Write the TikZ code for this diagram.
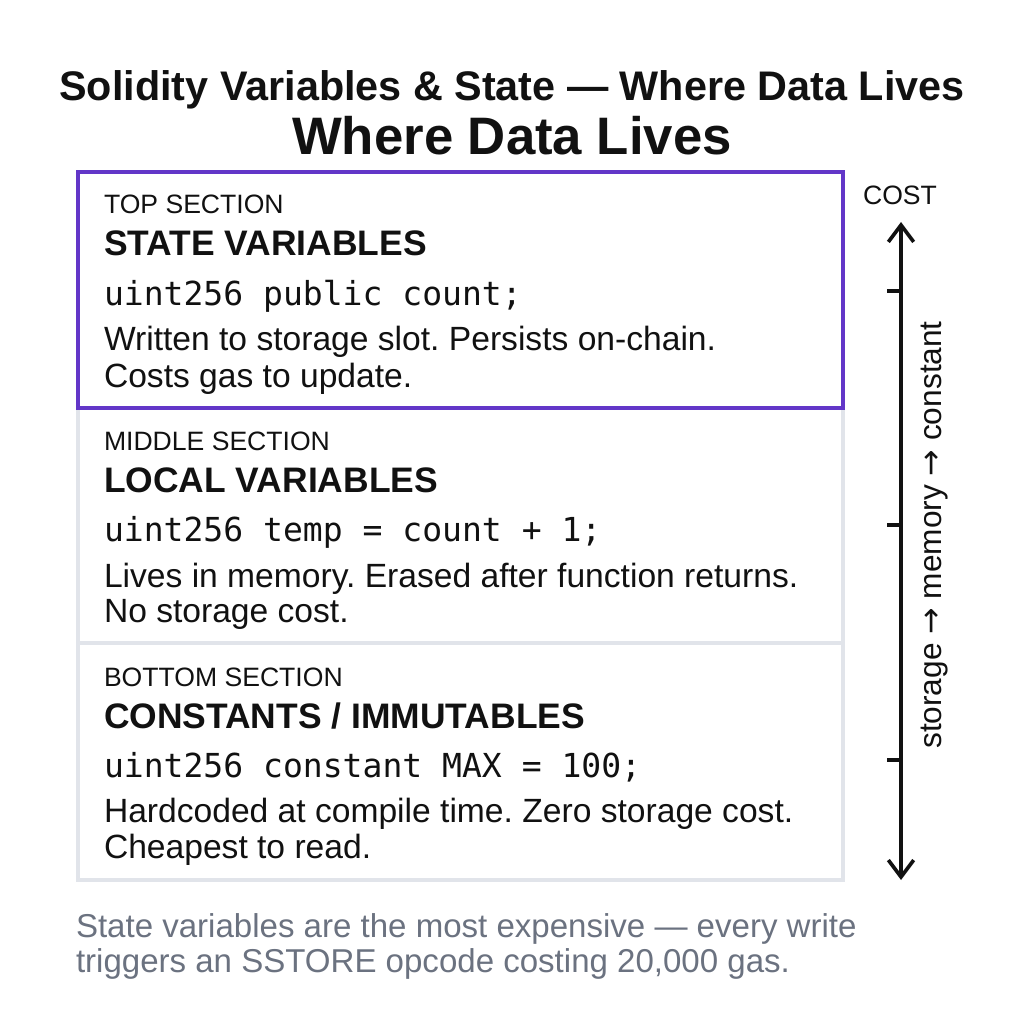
\documentclass[tikz,border=0pt]{standalone}
\usepackage{fontspec}
\setmainfont{Liberation Sans}
\setmonofont{DejaVu Sans Mono}
\newfontfamily\arrowfont{DejaVu Sans}
\usetikzlibrary{arrows.meta}
\definecolor{boxpurple}{HTML}{6236C8}
\definecolor{boxgray}{HTML}{E1E4EA}
\definecolor{notegray}{HTML}{6B7280}
\definecolor{inkblack}{HTML}{111111}
\newcommand{\toarrow}{{\arrowfont →}}
\frenchspacing
\begin{document}
\begin{tikzpicture}[x=0.025cm,y=-0.025cm]
		\tikzstyle{txt} = [anchor=base west, inner sep=0, outer sep=0, text=inkblack]
		\tikzstyle{kicker} = [txt, font=\fontsize{18.9}{22}\selectfont]
		\tikzstyle{heading} = [txt, font=\fontsize{25.2}{28}\selectfont\bfseries]
		\tikzstyle{code} = [txt, font=\fontsize{23.5}{28}\selectfont\ttfamily]
		\tikzstyle{desc} = [txt, font=\fontsize{23.9}{28}\selectfont]
		\tikzstyle{note} = [txt, text=notegray, font=\fontsize{23.5}{28}\selectfont]
		\tikzstyle{costarrow} = [{Straight Barb[length=12pt,width=18pt]}-{Straight Barb[length=12pt,width=18pt]}, line width=2.6pt, inkblack]
		\useasboundingbox[fill=white] (0,0) rectangle (1024,1024);
		% titles
		\node [txt, anchor=base, font=\fontsize{29.4}{34}\selectfont\bfseries] (title) at (512,101) {Solidity Variables \& State — Where Data Lives};
		\node [txt, anchor=base, font=\fontsize{37.5}{42}\selectfont\bfseries] (subtitle) at (512,155) {Where Data Lives};
		% sections
		\draw [boxgray, line width=2.2pt] (78,408) rectangle (843,880);
		\draw [boxgray, line width=2.2pt] (78,643) -- (843,643);
		\draw [boxpurple, line width=2.2pt] (78,172) rectangle (843,408);
		
		\node [kicker] (k1) at (104,214) {TOP SECTION};
		\node [heading] (h1) at (104,256) {STATE VARIABLES};
		\node [code] (c1) at (104,305) {uint256 public count;};
		\node [desc] (d1a) at (104,350) {Written to storage slot. Persists on-chain.};
		\node [desc] (d1b) at (104,387) {Costs gas to update.};
		
		\node [kicker] (k2) at (104,450) {MIDDLE SECTION};
		\node [heading] (h2) at (104,492) {LOCAL VARIABLES};
		\node [code] (c2) at (104,541) {uint256 temp = count + 1;};
		\node [desc] (d2a) at (104,587) {Lives in memory. Erased after function returns.};
		\node [desc] (d2b) at (104,622) {No storage cost.};
		
		\node [kicker] (k3) at (104,686) {BOTTOM SECTION};
		\node [heading] (h3) at (104,728) {CONSTANTS / IMMUTABLES};
		\node [code] (c3) at (104,777) {uint256 constant MAX = 100;};
		\node [desc] (d3a) at (104,822) {Hardcoded at compile time. Zero storage cost.};
		\node [desc] (d3b) at (104,858) {Cheapest to read.};
		
		% cost axis
		\node [kicker, anchor=base] (cost) at (900,205) {COST};
		\coordinate (costtop) at (901,222);
		\coordinate (costbot) at (901,880);
		\draw [costarrow] (costtop) -- (costbot);
		\foreach \t in {291,525,760}
		{
			\draw [line width=2.6pt, inkblack] (887,\t) -- (901,\t);
		}
		\node [txt, anchor=center, rotate=90, font=\fontsize{22.5}{28}\selectfont] (scale) at (935,535) {storage \toarrow{} memory \toarrow{} constant};
		
		% footnote
		\node [note] (n1) at (76,937) {State variables are the most expensive — every write};
		\node [note] (n2) at (76,972) {triggers an SSTORE opcode costing 20,000 gas.};
\end{tikzpicture}
\end{document}
